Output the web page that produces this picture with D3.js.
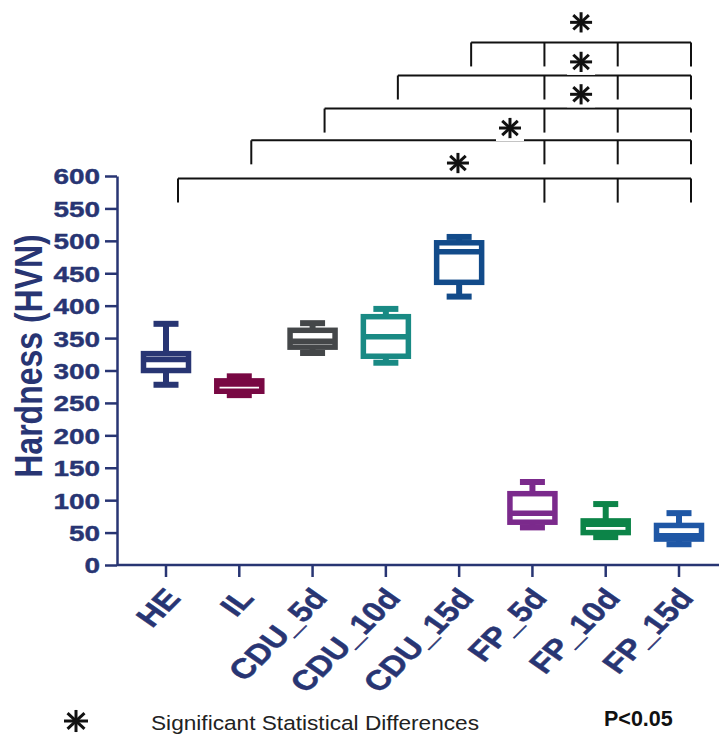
<!DOCTYPE html>
<html lang="en">
<head>
  <meta charset="UTF-8">
  <title>Hardness (HVN)</title>
  <script src="https://d3js.org/d3.v7.min.js"></script>
  <style>
    body { margin: 0; background: #fff; }
    svg { display: block; }
    text { font-family: "Liberation Sans", Arial, sans-serif; }
  </style>
</head>
<body>
  <svg id="chart" width="719" height="738"></svg>

  <script>
    const groups  = ["HE", "IL", "CDU_5d", "CDU_10d", "CDU_15d", "FP_5d", "FP_10d", "FP_15d"];
    const mins    = [278, 262, 327, 312, 414,  58, 43, 32];
    const q1s     = [300, 268, 336, 322, 436,  66, 50, 40];
    const medians = [317, 279, 345, 352, 483,  80, 63, 45];
    const q3s     = [326, 284, 362, 383, 497, 110, 68, 61];
    const maxs    = [372, 291, 373, 395, 506, 128, 94, 80];
    const colors  = ["#283573", "#780843", "#444749", "#198a84", "#124b8a", "#7b2a8c", "#0c8448", "#1f57a5"];

    const yTicks = d3.range(0, 601, 50);

    // significance brackets (lowest first)
    const bracketFrom  = ["HE", "IL", "CDU_5d", "CDU_10d", "CDU_15d"];
    const bracketTo    = ["FP_5d", "FP_10d", "FP_15d"];
    const bracketLevel = [596, 655, 704, 755, 806];
    const starIndex    = [3.82, 4.53, 5.5, 5.5, 5.5];
    const starLevel    = [620, 674, 726, 776, 837];

    // —— layout ——
    const navy = "#283573";
    const svg = d3.select("#chart");
    const x = d3.scalePoint().domain(groups).range([166, 679]);
    const y = d3.scaleLinear().domain([0, 600]).range([565, 176]);
    const xAt = i => 166 + i * x.step();
    const shift = 12;   // brackets sit slightly right of the boxes
    const boxW = 45, capW = 25, sw = 5.5;

    // axes
    const yAxis = svg.append("g")
      .attr("transform", "translate(117,0)")
      .call(d3.axisLeft(y).tickValues(yTicks).tickSize(12).tickPadding(5).tickSizeOuter(0));
    yAxis.select(".domain").attr("stroke", navy).attr("stroke-width", 2.5);
    yAxis.selectAll(".tick line").attr("stroke", navy).attr("stroke-width", 2.5);
    yAxis.selectAll(".tick text")
      .attr("fill", navy).attr("font-size", 22).attr("font-weight", "bold")
      .attr("x", -17 / 1.27).attr("transform", "scale(1.27,1)")
      .attr("stroke", navy).attr("stroke-width", 0.4)
      .attr("dy", "0.36em");

    svg.append("line")
      .attr("x1", 117).attr("x2", 719).attr("y1", y(0)).attr("y2", y(0))
      .attr("stroke", navy).attr("stroke-width", 2.5);

    const xt = svg.append("g").selectAll("g").data(groups).join("g")
      .attr("transform", d => `translate(${x(d)},${y(0)})`);
    xt.append("line").attr("y2", 12).attr("stroke", navy).attr("stroke-width", 2.5);
    xt.append("text")
      .attr("transform", "translate(16,34) scale(1.2,1) rotate(-50)")
      .attr("text-anchor", "end")
      .attr("fill", navy).attr("font-size", 28).attr("font-weight", "bold")
      .attr("stroke", navy).attr("stroke-width", 0.5)
      .text(d => d);

    svg.append("text")
      .attr("transform", "translate(42,356) rotate(-90) scale(1,1.2)")
      .attr("text-anchor", "middle")
      .attr("fill", navy).attr("font-size", 32).attr("font-weight", "bold")
      .text("Hardness (HVN)");

    // boxes
    const boxes = svg.append("g").selectAll("g").data(groups).join("g")
      .attr("fill", "none")
      .attr("stroke", (d, i) => colors[i]);

    boxes.append("line")
      .attr("x1", d => x(d)).attr("x2", d => x(d))
      .attr("y1", (d, i) => y(maxs[i])).attr("y2", (d, i) => y(q3s[i]))
      .attr("stroke-width", 6);
    boxes.append("line")
      .attr("x1", d => x(d)).attr("x2", d => x(d))
      .attr("y1", (d, i) => y(q1s[i])).attr("y2", (d, i) => y(mins[i]))
      .attr("stroke-width", 6);
    boxes.append("line")
      .attr("x1", d => x(d) - capW / 2).attr("x2", d => x(d) + capW / 2)
      .attr("y1", (d, i) => y(maxs[i])).attr("y2", (d, i) => y(maxs[i]))
      .attr("stroke-width", 6);
    boxes.append("line")
      .attr("x1", d => x(d) - capW / 2).attr("x2", d => x(d) + capW / 2)
      .attr("y1", (d, i) => y(mins[i])).attr("y2", (d, i) => y(mins[i]))
      .attr("stroke-width", 6);
    boxes.append("rect")
      .attr("x", d => x(d) - boxW / 2).attr("width", boxW)
      .attr("y", (d, i) => y(q3s[i]))
      .attr("height", (d, i) => y(q1s[i]) - y(q3s[i]))
      .attr("fill", "#fff")
      .attr("stroke-width", sw);
    boxes.append("line")
      .attr("x1", d => x(d) - boxW / 2).attr("x2", d => x(d) + boxW / 2)
      .attr("y1", (d, i) => y(medians[i])).attr("y2", (d, i) => y(medians[i]))
      .attr("stroke-width", sw);

    // brackets
    const drop = 24;
    const br = svg.append("g").attr("stroke", "#111").attr("stroke-width", 2).attr("fill", "none");
    bracketFrom.forEach((g, k) => {
      const yy = y(bracketLevel[k]);
      const x0 = x(g) + shift, x1 = x(bracketTo[bracketTo.length - 1]) + shift;
      br.append("line").attr("x1", x0).attr("x2", x1).attr("y1", yy).attr("y2", yy);
      br.append("line").attr("x1", x0).attr("x2", x0).attr("y1", yy).attr("y2", yy + drop);
      bracketTo.forEach(t => {
        br.append("line").attr("x1", x(t) + shift).attr("x2", x(t) + shift)
          .attr("y1", yy).attr("y2", yy + drop);
      });
    });

    function star(g, cx, cy, r) {
      const s = g.append("g").attr("transform", `translate(${cx},${cy})`);
      s.append("rect").attr("x", -r - 3).attr("y", -r - 2).attr("width", 2 * r + 6).attr("height", 2 * r + 4)
        .attr("fill", "#fff");
      [0, 45, 90, 135].forEach(a => {
        const rad = a * Math.PI / 180;
        s.append("line")
          .attr("x1", -r * Math.cos(rad)).attr("y1", -r * 0.92 * Math.sin(rad))
          .attr("x2", r * Math.cos(rad)).attr("y2", r * 0.92 * Math.sin(rad))
          .attr("stroke", "#111").attr("stroke-width", 3);
      });
    }
    const stars = svg.append("g");
    starIndex.forEach((si, k) => star(stars, xAt(si) + shift, y(starLevel[k]), 11));

    // legend
    star(svg.append("g"), 76, 721, 12);
    svg.append("text")
      .attr("x", 151).attr("y", 730)
      .attr("font-size", 20.5).attr("fill", "#222")
      .attr("textLength", 328).attr("lengthAdjust", "spacingAndGlyphs")
      .text("Significant Statistical Differences");
    svg.append("text")
      .attr("x", 604).attr("y", 726)
      .attr("font-size", 21.5).attr("font-weight", "bold").attr("fill", "#111")
      .text("P<0.05");
  </script>
</body>
</html>
